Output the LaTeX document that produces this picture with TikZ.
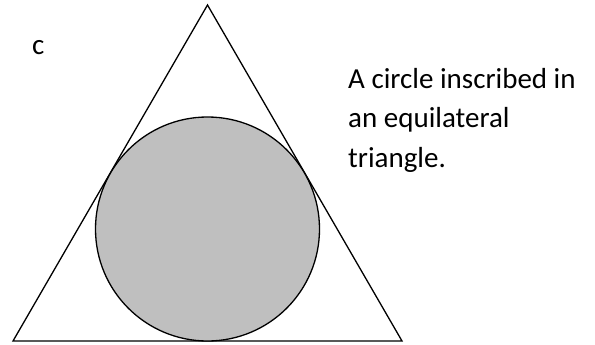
\documentclass[tikz,border=0pt]{standalone}
\usepackage{fontspec}
\setmainfont{Carlito}
\usetikzlibrary{positioning,calc}

\begin{document}
\begin{tikzpicture}[x=1pt, y=-1pt,
  edge/.style={draw=black, line width=1.3pt, line join=miter},
  disk/.style={draw=black, line width=1.3pt, fill=black!25},
  label/.style={inner sep=0pt, anchor=base west, align=left, font=\fontsize{29}{39.5}\selectfont}
]
  \useasboundingbox (0,0) rectangle (595,345);
  \coordinate (top) at (207.5,5);
  \coordinate (bl) at (13,341);
  \coordinate (br) at (402,341);
  \draw[edge] (bl) -- (top) -- (br) -- cycle;
  \node[disk, circle, minimum size=224pt, inner sep=0pt] (incircle) at (207.5,229) {};

  % base anchor of a multi-line node sits on its last line
  \node[label] (mark) at (32,55) {c};
  \node[label] (caption) at (348,167) {A circle inscribed in\\an equilateral\\triangle.};
\end{tikzpicture}
\end{document}
